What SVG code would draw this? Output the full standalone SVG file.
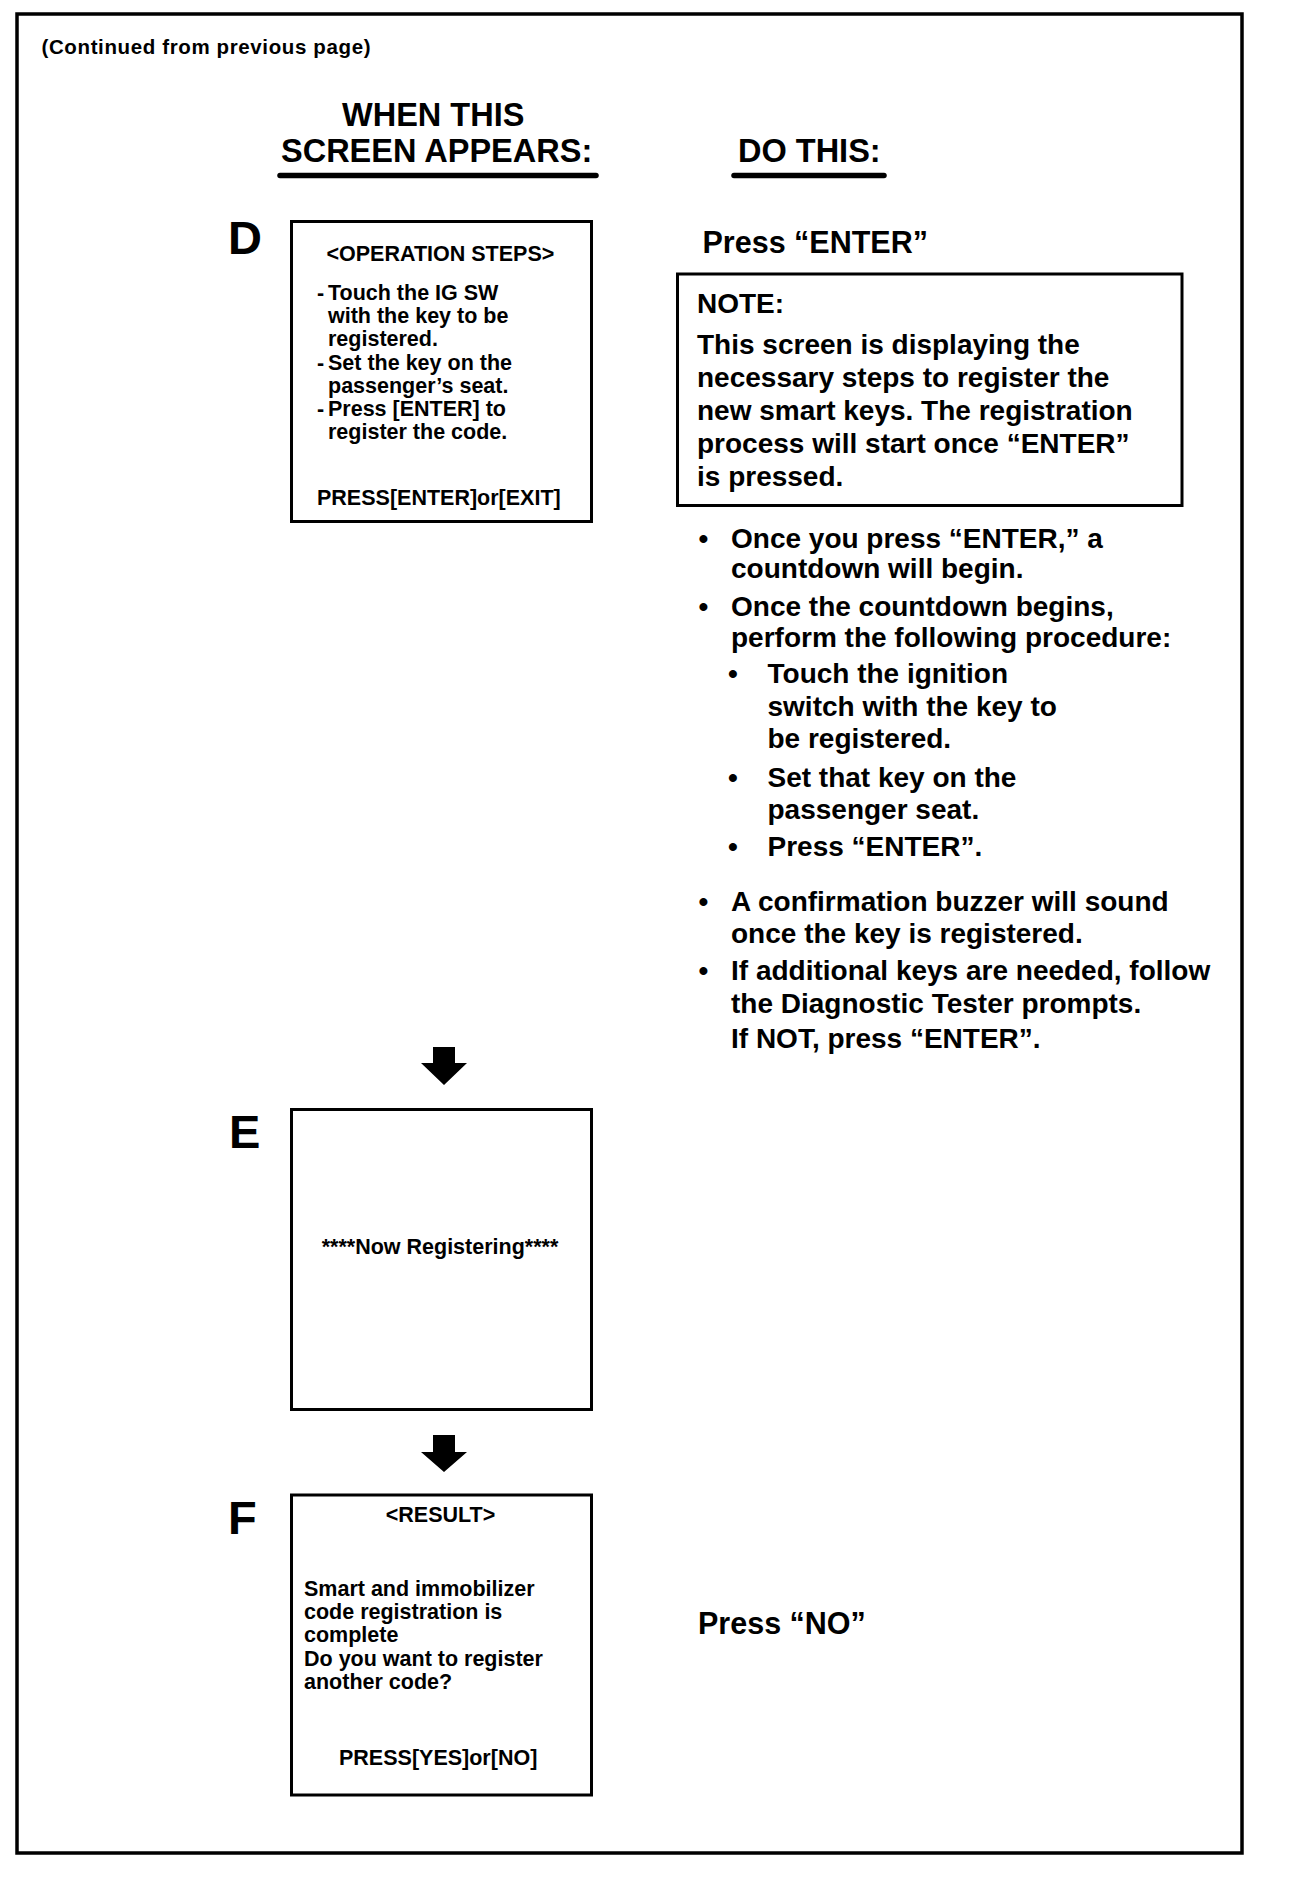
<svg xmlns="http://www.w3.org/2000/svg" width="1312" height="1888" viewBox="0 0 1312 1888">
<style>
text { font-family: "Liberation Sans", Arial, Helvetica, sans-serif; font-weight: bold; fill: #000; }
.cont { font-size: 20.5px; }
.hd { font-size: 32.5px; }
.ltr { font-size: 47px; }
.scr { font-size: 21.5px; }
.act { font-size: 30.5px; }
.body { font-size: 28px; }
.frame { fill: none; stroke: #000; stroke-width: 3.5; }
.box { fill: #fff; stroke: #000; stroke-width: 3; }
.ul { stroke: #000; stroke-width: 5.5; stroke-linecap: round; }
.arrow { fill: #000; }
</style>
<rect width="1312" height="1888" fill="#fff"/>
<rect class="frame" x="17" y="14" width="1225" height="1839"/>
<text class="cont" x="41.5" y="53.5" textLength="329" lengthAdjust="spacing">(Continued from previous page)</text>

<g id="header">
  <text class="hd" x="342" y="125.5">WHEN THIS</text>
  <text class="hd" x="281" y="162">SCREEN APPEARS:</text>
  <line class="ul" x1="280" y1="175.5" x2="596" y2="175.5"/>
  <text class="hd" x="738" y="162">DO THIS:</text>
  <line class="ul" x1="734" y1="175.5" x2="884" y2="175.5"/>
</g>

<g id="screen-D">
  <text class="ltr" x="228" y="254">D</text>
  <rect class="box" x="291.5" y="221.5" width="300" height="300"/>
  <text class="scr" x="326.5" y="260.5">&lt;OPERATION STEPS&gt;</text>
  <text class="scr"><tspan x="317" y="299.6">-</tspan><tspan x="328" y="299.6">Touch the IG SW</tspan></text>
  <text class="scr" x="328" y="322.9">with the key to be</text>
  <text class="scr" x="328" y="346.2">registered.</text>
  <text class="scr"><tspan x="317" y="369.5">-</tspan><tspan x="328" y="369.5">Set the key on the</tspan></text>
  <text class="scr" x="328" y="392.8">passenger’s seat.</text>
  <text class="scr"><tspan x="317" y="416.1">-</tspan><tspan x="328" y="416.1">Press [ENTER] to</tspan></text>
  <text class="scr" x="328" y="439.4">register the code.</text>
  <text class="scr" x="317" y="505">PRESS[ENTER]or[EXIT]</text>
</g>

<g id="action-D">
  <text class="act" x="702.5" y="253.3">Press “ENTER”</text>
  <rect class="box" x="677.5" y="274" width="504.5" height="231.5"/>
  <text class="body" x="697" y="313.3">NOTE:</text>
  <text class="body" x="697" y="353.5">This screen is displaying the</text>
  <text class="body" x="697" y="386.5">necessary steps to register the</text>
  <text class="body" x="697" y="419.5">new smart keys. The registration</text>
  <text class="body" x="697" y="452.5">process will start once “ENTER”</text>
  <text class="body" x="697" y="485.5">is pressed.</text>

  <text class="body" x="698.6" y="547.5">•</text>
  <text class="body" x="731" y="547.5">Once you press “ENTER,” a</text>
  <text class="body" x="731" y="577.5">countdown will begin.</text>
  <text class="body" x="698.6" y="616">•</text>
  <text class="body" x="731" y="616">Once the countdown begins,</text>
  <text class="body" x="731" y="646.5">perform the following procedure:</text>
  <text class="body" x="728" y="682.5">•</text>
  <text class="body" x="767.5" y="682.5">Touch the ignition</text>
  <text class="body" x="767.5" y="715.5">switch with the key to</text>
  <text class="body" x="767.5" y="748">be registered.</text>
  <text class="body" x="728" y="787">•</text>
  <text class="body" x="767.5" y="787">Set that key on the</text>
  <text class="body" x="767.5" y="818.5">passenger seat.</text>
  <text class="body" x="728" y="856">•</text>
  <text class="body" x="767.5" y="856">Press “ENTER”.</text>
  <text class="body" x="698.6" y="910.5">•</text>
  <text class="body" x="731" y="910.5">A confirmation buzzer will sound</text>
  <text class="body" x="731" y="943">once the key is registered.</text>
  <text class="body" x="698.6" y="979.5">•</text>
  <text class="body" x="731" y="979.5">If additional keys are needed, follow</text>
  <text class="body" x="731" y="1013">the Diagnostic Tester prompts.</text>
  <text class="body" x="731" y="1048">If NOT, press “ENTER”.</text>
</g>

<g id="screen-E">
  <text class="ltr" x="229" y="1148">E</text>
  <rect class="box" x="291.5" y="1109.5" width="300" height="300"/>
  <text class="scr" x="440" y="1254" text-anchor="middle">****Now Registering****</text>
</g>

<g id="screen-F">
  <text class="ltr" x="228" y="1534">F</text>
  <rect class="box" x="291.5" y="1495" width="300" height="300"/>
  <text class="scr" x="440.5" y="1522" text-anchor="middle">&lt;RESULT&gt;</text>
  <text class="scr" x="304" y="1596">Smart and immobilizer</text>
  <text class="scr" x="304" y="1619.2">code registration is</text>
  <text class="scr" x="304" y="1642.4">complete</text>
  <text class="scr" x="304" y="1665.6">Do you want to register</text>
  <text class="scr" x="304" y="1688.8">another code?</text>
  <text class="scr" x="339" y="1765">PRESS[YES]or[NO]</text>
</g>

<g id="action-F">
  <text class="act" x="698" y="1634">Press “NO”</text>
</g>

<g id="connectors">
  <polygon class="arrow" points="433,1047 455,1047 455,1063 467,1063 444,1085 421,1063 433,1063"/>
  <polygon class="arrow" points="433,1435 455,1435 455,1452 467,1452 444,1472 421,1452 433,1452"/>
</g>
</svg>
